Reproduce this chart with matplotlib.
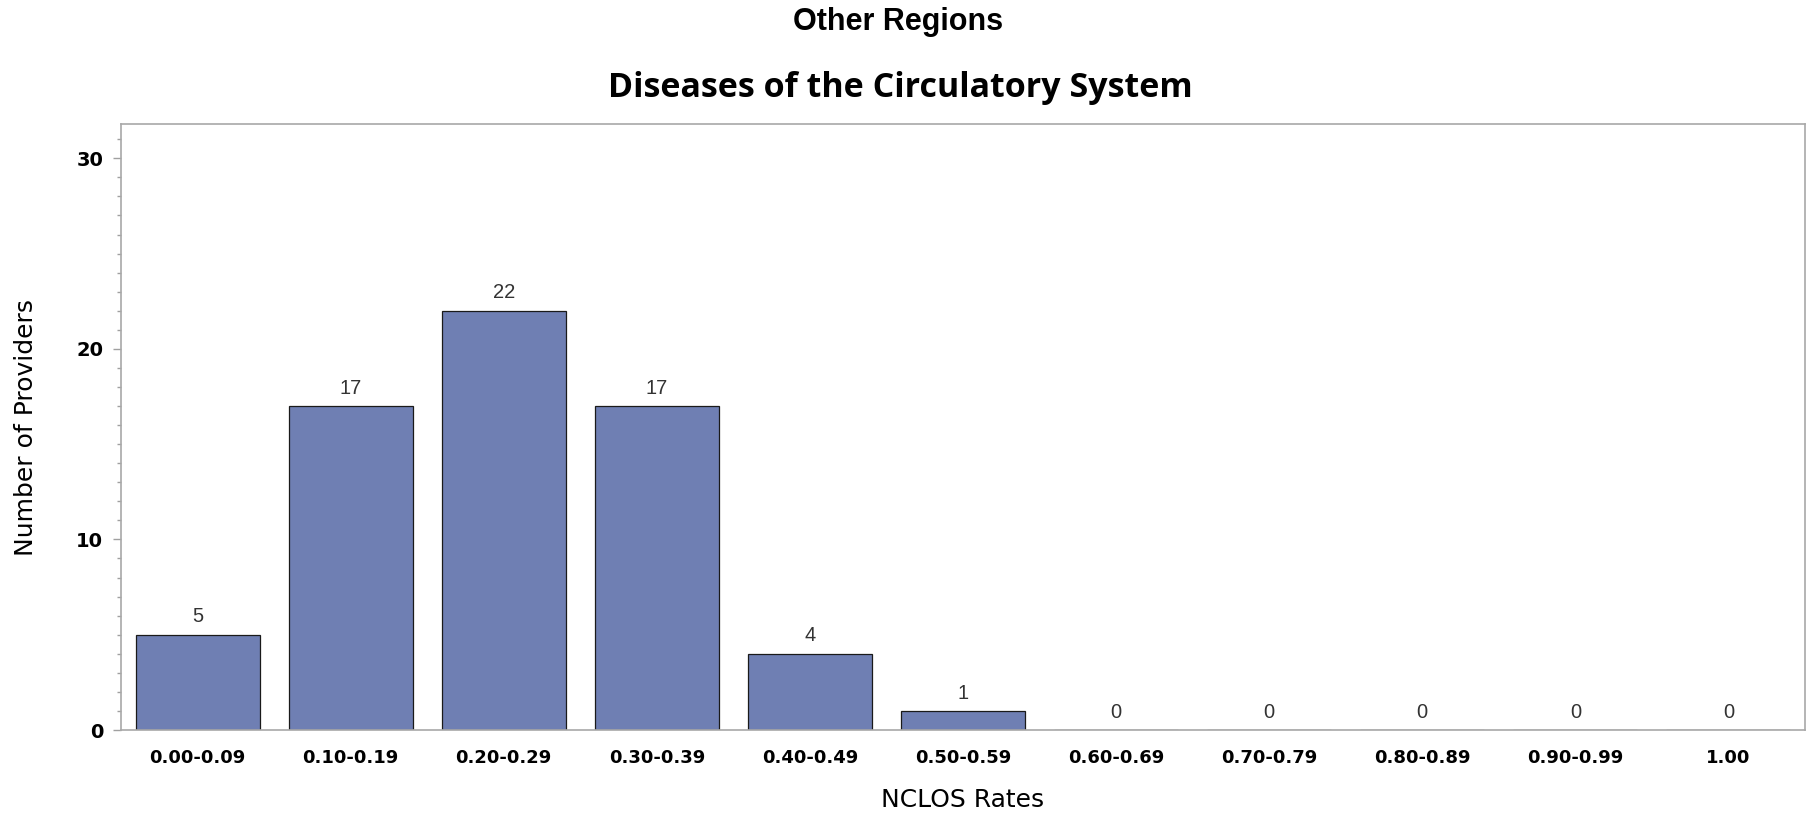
import matplotlib
matplotlib.use("Agg")
import matplotlib.pyplot as plt
from matplotlib.ticker import MultipleLocator

categories = ["0.00-0.09", "0.10-0.19", "0.20-0.29", "0.30-0.39", "0.40-0.49",
              "0.50-0.59", "0.60-0.69", "0.70-0.79", "0.80-0.89", "0.90-0.99", "1.00"]
counts = [5, 17, 22, 17, 4, 1, 0, 0, 0, 0, 0]
yticks = [0, 10, 20, 30]

suptitle = "Other Regions"
title = "Diseases of the Circulatory System"
xlabel = "NCLOS Rates"
ylabel = "Number of Providers"

W, H = 1812, 815
fig = plt.figure(figsize=(W / 100, H / 100), dpi=100)
ax = fig.add_axes([121 / W, 1 - 730 / H, (1805 - 121) / W, (730 - 124) / H])

x = list(range(len(categories)))
ax.bar(x, counts, width=0.81, color="#6F7FB3", edgecolor="#1a1a1a", linewidth=0.9, zorder=2)
for xi, v in zip(x, counts):
    ax.annotate(str(v), (xi, v), xytext=(0, 6), textcoords="offset points",
                ha="center", va="bottom", fontsize=14.5, color="#333333",
                family="Liberation Sans")

ax.set_xlim(-0.5, len(categories) - 0.5)
ax.set_ylim(0, 31.8)
ax.set_xticks(x)
ax.set_xticklabels(categories, fontsize=13, fontweight="bold", family="DejaVu Sans")
ax.set_yticks(yticks)
ax.set_yticklabels([str(t) for t in yticks], fontsize=14, fontweight="bold", family="DejaVu Sans")
ax.yaxis.set_minor_locator(MultipleLocator(1))
ax.tick_params(axis="x", length=0, pad=14)
ax.tick_params(axis="y", which="major", length=5.8, width=1, color="#A0A0A0", pad=7)
ax.tick_params(axis="y", which="minor", length=2.9, width=1, color="#A0A0A0")
for s in ax.spines.values():
    s.set_color("#A8A8A8")
    s.set_linewidth(1.2)

ax.set_xlabel(xlabel, fontsize=18, family="DejaVu Sans", labelpad=15)
ax.set_ylabel(ylabel, fontsize=18, family="DejaVu Sans")
ax.yaxis.set_label_coords(-83 / (1805 - 121), 0.5)

fig.text(898 / W, 1 - 22 / H, suptitle, ha="center", va="center", fontsize=22,
         fontweight="bold", family="Liberation Sans")
fig.text(900 / W, 1 - 88 / H, title, ha="center", va="center", fontsize=24.5,
         fontweight="bold", family="Open Sans")

fig.savefig("out.png", dpi=100, facecolor="white")
